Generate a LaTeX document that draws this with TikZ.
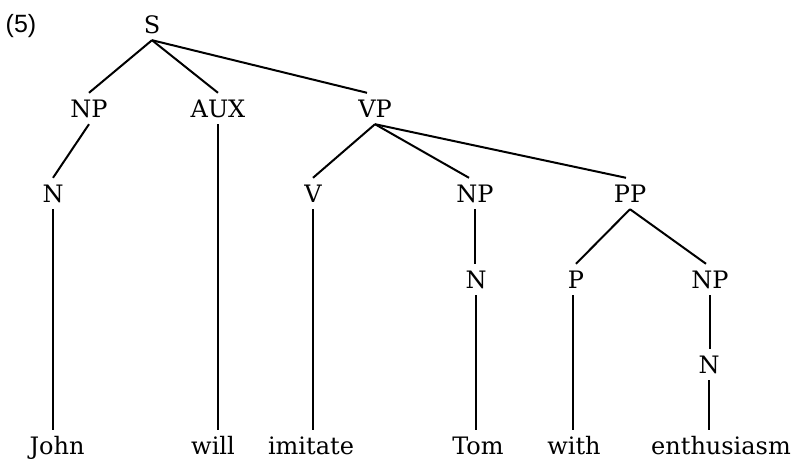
\documentclass[tikz,border=0pt]{standalone}
\usepackage{fontspec}
\setmainfont{DejaVu Serif}
\newfontfamily\numfont{Liberation Sans}
\begin{document}
\begin{tikzpicture}[x=1pt,y=-1pt,
  cat/.style={anchor=base,inner xsep=2pt,inner ysep=7pt,text height=17pt,text depth=0pt,
    font=\fontsize{24}{28}\selectfont},
  edge/.style={line width=2pt}]
\useasboundingbox (0,0) rectangle (795,461);
\node[anchor=base,font=\numfont\fontsize{25}{30}\selectfont] (lab) at (21,32) {(5)};
\node[cat] (S) at (152,33) {S};
\node[cat] (NPa) at (89,117) {NP};
\node[cat] (AUX) at (218,117) {AUX};
\node[cat] (VP) at (375,117) {VP};
\node[cat] (Na) at (53,202) {N};
\node[cat] (V) at (313,202) {V};
\node[cat] (NPb) at (475,202) {NP};
\node[cat] (PP) at (630,202) {PP};
\node[cat] (Nb) at (476,288) {N};
\node[cat] (P) at (576,288) {P};
\node[cat] (NPc) at (710,288) {NP};
\node[cat] (Nc) at (709,373) {N};
\node[cat] (john) at (57,454) {John};
\node[cat] (will) at (213,454) {will};
\node[cat] (imitate) at (311,454) {imitate};
\node[cat] (tom) at (478,454) {Tom};
\node[cat] (with) at (574,454) {with};
\node[cat] (enth) at (721,454) {enthusiasm};
\draw[edge] (S.south) -- (NPa.north);
\draw[edge] (S.south) -- (AUX.north);
\draw[edge] (S.south) -- ([xshift=-8pt]VP.north);
\draw[edge] (NPa.south) -- (Na.north);
\draw[edge] (VP.south) -- (V.north);
\draw[edge] (VP.south) -- ([xshift=-6pt]NPb.north);
\draw[edge] (VP.south) -- ([xshift=-4pt]PP.north);
\draw[edge] (NPb.south) -- (NPb.south |- Nb.north);
\draw[edge] (PP.south) -- (P.north);
\draw[edge] (PP.south) -- ([xshift=-4pt]NPc.north);
\draw[edge] (NPc.south) -- (NPc.south |- Nc.north);
\draw[edge] (AUX.south) -- (AUX.south |- will.north);
\draw[edge] (Na.south) -- (Na.south |- john.north);
\draw[edge] (V.south) -- (V.south |- imitate.north);
\draw[edge] (Nb.south) -- (Nb.south |- tom.north);
\draw[edge] ([xshift=-3pt]P.south) -- ([xshift=-3pt]P.south |- with.north);
\draw[edge] (Nc.south) -- (Nc.south |- enth.north);
\end{tikzpicture}
\end{document}
